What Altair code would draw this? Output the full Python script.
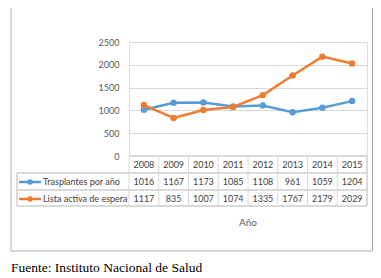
import altair as alt
import pandas as pd

years = ["2008", "2009", "2010", "2011", "2012", "2013", "2014", "2015"]
trasplantes = [1016, 1167, 1173, 1085, 1108, 961, 1059, 1204]
lista = [1117, 835, 1007, 1074, 1335, 1767, 2179, 2029]
series_names = ["Trasplantes por año", "Lista activa de espera"]
series_colors = ["#5B9BD5", "#ED7D31"]
y_ticks = [0, 500, 1000, 1500, 2000, 2500]
x_title = "Año"
source = "Fuente: Instituto Nacional de Salud"

rows = []
for s, vals in zip(series_names, [trasplantes, lista]):
    for y, v in zip(years, vals):
        rows.append({"year": y, "value": v, "series": s})
df = pd.DataFrame(rows)
years_df = pd.DataFrame({"year": years})

W, H = 238, 114
FONT = "Lato"
GRID = "#D9D9D9"
TXT = "#404040"

xs = alt.X("year:O", axis=None, scale=alt.Scale(type="point", padding=0.5, domain=years))
ys = alt.Y("value:Q", scale=alt.Scale(domain=[0, 2500], nice=False),
           axis=alt.Axis(values=y_ticks, tickCount=6, format="d", title=None, domain=False,
                         ticks=False, labelOverlap=False, labelFont=FONT, labelFontSize=9,
                         labelColor="#595959", labelPadding=10, gridColor=GRID, gridWidth=1))
color = alt.Color("series:N", scale=alt.Scale(domain=series_names, range=series_colors), legend=None)

lines = alt.Chart(df).mark_line(strokeWidth=2.5).encode(x=xs, y=ys, color=color)
points = alt.Chart(df).mark_circle(size=42, opacity=1).encode(x=xs, y=ys, color=color)

row_y = {series_names[0]: 140, series_names[1]: 157}

header = alt.Chart(years_df).mark_text(font=FONT, fontSize=9, color=TXT, baseline="middle").encode(
    x=xs, y=alt.value(123), text="year:N")

cells = []
for s in series_names:
    cells.append(
        alt.Chart(df).transform_filter(alt.datum.series == s)
        .mark_text(font=FONT, fontSize=9, color=TXT, baseline="middle")
        .encode(x=xs, y=alt.value(row_y[s]), text="value:Q")
    )

labels = []
for s, c in zip(series_names, series_colors):
    sd = pd.DataFrame({"series": [s]})
    labels.append(alt.Chart(sd).mark_text(font=FONT, fontSize=9, color=TXT, align="left",
                                          baseline="middle").encode(
        x=alt.value(-86), y=alt.value(row_y[s]), text="series:N"))
    labels.append(alt.Chart(sd).mark_rule(color=c, strokeWidth=2.5).encode(
        x=alt.value(-110), x2=alt.value(-88), y=alt.value(row_y[s])))
    labels.append(alt.Chart(sd).mark_circle(color=c, size=30, opacity=1).encode(
        x=alt.value(-99), y=alt.value(row_y[s])))

# table grid
vlines = alt.Chart(years_df).mark_rule(color=GRID, strokeWidth=1).encode(
    x=xs, xOffset=alt.value(-W / 16), y=alt.value(114), y2=alt.value(164))
grid_extra = [
    alt.Chart(years_df).mark_rule(color=GRID).encode(x=alt.value(W), y=alt.value(114), y2=alt.value(164)),
    alt.Chart(years_df).mark_rule(color=GRID).encode(x=alt.value(-112), y=alt.value(131), y2=alt.value(164)),
    alt.Chart(years_df).mark_rule(color=GRID).encode(x=alt.value(0), x2=alt.value(W), y=alt.value(114)),
]
for yy in [131, 148, 164]:
    grid_extra.append(alt.Chart(years_df).mark_rule(color=GRID).encode(
        x=alt.value(-112), x2=alt.value(W), y=alt.value(yy)))

title_x = alt.Chart(pd.DataFrame({"t": [x_title]})).mark_text(
    font=FONT, fontSize=10, color="#595959", baseline="middle").encode(
    x=alt.value(W / 2), y=alt.value(181), text="t:N")

border = alt.Chart(pd.DataFrame({"t": [0]})).mark_rect(
    fill=None, stroke="#AEAEAE", strokeWidth=1).encode(
    x=alt.value(-118), x2=alt.value(243.5), y=alt.value(-36.5), y2=alt.value(209))

src = alt.Chart(pd.DataFrame({"t": [source]})).mark_text(
    font="Liberation Serif", fontSize=13.5, color="#000000", align="left",
    baseline="alphabetic").encode(x=alt.value(-118), y=alt.value(230), text="t:N")

chart = alt.layer(
    border, *grid_extra, vlines, lines, points, header, *cells, *labels, title_x, src
).properties(
    width=W, height=H,
    autosize=alt.AutoSizeParams(type="none"),
    padding={"left": 121, "top": 34, "right": 6, "bottom": 120},
).configure_view(stroke=None).configure(background="white")

chart.save("out.html", embed_options={"renderer": "svg", "actions": False})
